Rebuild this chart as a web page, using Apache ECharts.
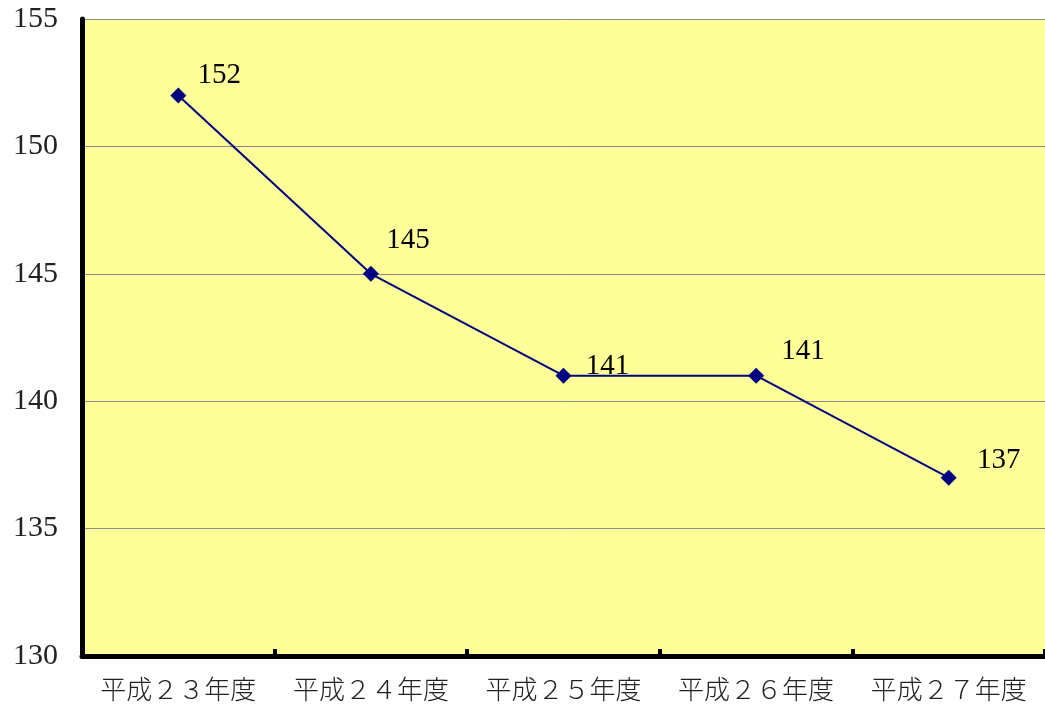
<!DOCTYPE html>
<html><head><meta charset="utf-8">
<script src="https://cdn.jsdelivr.net/npm/echarts@6/dist/echarts.min.js"></script>
<style>html,body{margin:0;padding:0;background:#fff}#c{width:1045px;height:707px}</style>
</head><body><div id="c"></div>
<script>
const categories = ['平成２３年度','平成２４年度','平成２５年度','平成２６年度','平成２７年度'];
const values = [152, 145, 141, 141, 137];
const yTicks = [130, 135, 140, 145, 150, 155];
const labelOffsets = [[41,-20],[37,-33],[44,-9],[47,-24],[50,-17]];

const chart = echarts.init(document.getElementById('c'), null, {renderer:'canvas'});
chart.setOption({
  animation:false,
  backgroundColor:'#ffffff',
  grid:{left:82, top:18, width:968, bottom:51, show:true, backgroundColor:'#FFFF99', borderWidth:0},
  xAxis:{
    type:'category', data:categories, boundaryGap:true,
    axisLine:{lineStyle:{color:'#000', width:5}},
    axisTick:{show:true, inside:true, length:7, interval:0, lineStyle:{color:'#000', width:4}},
    axisLabel:{fontFamily:'"Noto Sans CJK JP"', fontSize:26, color:'#222', margin:20, fontWeight:300, interval:0},
    splitLine:{show:false}
  },
  yAxis:{
    type:'value', min:yTicks[0], max:yTicks[yTicks.length-1], interval:5,
    axisLine:{show:true, lineStyle:{color:'#000', width:5}},
    axisTick:{show:false},
    axisLabel:{fontFamily:'"Liberation Serif"', fontSize:30, color:'#222', margin:24, lineHeight:38, verticalAlign:'middle'},
    splitLine:{show:true, lineStyle:{color:'#8c8c8c', width:1}}
  },
  series:[{
    type:'line', data:values.map((v,i)=>({value:v, label:{offset:labelOffsets[i]}})),
    symbol:'diamond', symbolSize:16,
    itemStyle:{color:'#000080'},
    lineStyle:{color:'#000080', width:2},
    label:{show:true, position:'inside', align:'center', verticalAlign:'middle',
      fontFamily:'"Liberation Serif"', fontSize:29, color:'#000'}
  }]
});
</script></body></html>
